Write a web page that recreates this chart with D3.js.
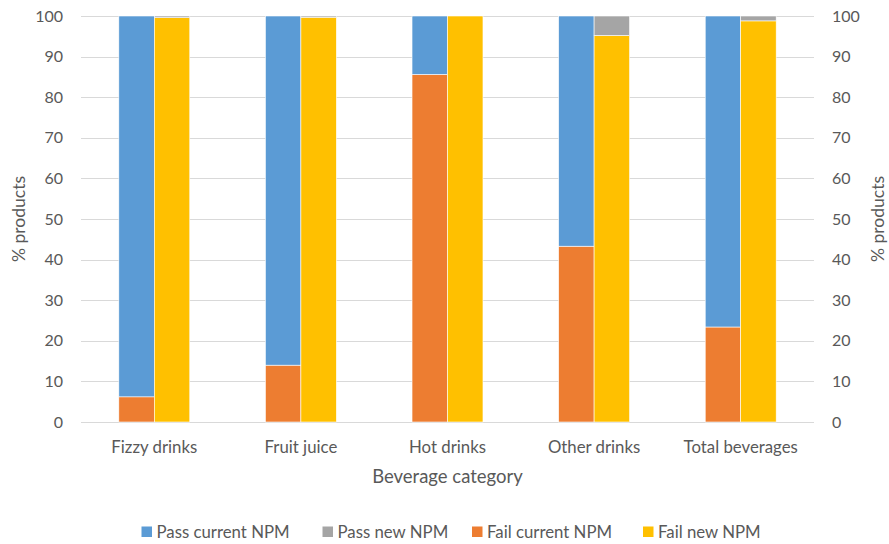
<!DOCTYPE html>
<html>
<head>
<meta charset="utf-8">
<script src="https://cdn.jsdelivr.net/npm/d3@7"></script>
<style>
  body { margin: 0; background: #fff; }
  svg text { font-family: Lato, "Open Sans", sans-serif; fill: #595959; }
</style>
</head>
<body>
<svg id="chart" width="889" height="544"></svg>
<script>
// data
var categories = ['Fizzy drinks', 'Fruit juice', 'Hot drinks', 'Other drinks', 'Total beverages'];
var failCurrent = [6.2, 14.0, 85.6, 43.3, 23.4];
var passCurrent = [93.8, 86.0, 14.4, 56.7, 76.6];
var failNew = [99.6, 99.7, 100, 95.2, 98.8];
var passNew = [0.4, 0.3, 0, 4.8, 1.2];
var yTicks = [0, 10, 20, 30, 40, 50, 60, 70, 80, 90, 100];

var colors = {
  passCurrent: '#5B9BD5',
  passNew: '#A5A5A5',
  failCurrent: '#ED7D31',
  failNew: '#FFC000'
};

var margin = {top: 16, right: 75, bottom: 122, left: 81},
    width = 889 - margin.left - margin.right,
    height = 544 - margin.top - margin.bottom;

var svg = d3.select('#chart');
var g = svg.append('g').attr('transform', 'translate(' + margin.left + ',' + margin.top + ')');

var x = d3.scaleBand().domain(categories).range([0, width]).paddingInner(0.516).paddingOuter(0.258);
var sub = d3.scaleBand().domain(['current', 'new']).range([0, x.bandwidth()]);
var y = d3.scaleLinear().domain([0, 100]).range([height, 0]);

// gridlines
g.selectAll('.grid').data(yTicks).enter().append('line')
  .attr('x1', 0).attr('x2', width)
  .attr('y1', function(d) { return Math.round(y(d)) + 0.5; })
  .attr('y2', function(d) { return Math.round(y(d)) + 0.5; })
  .attr('stroke', '#D9D9D9').attr('stroke-width', 1);

// rows for stacking
var rows = categories.map(function(c, i) {
  return {cat: c, failCurrent: failCurrent[i], passCurrent: passCurrent[i], failNew: failNew[i], passNew: passNew[i]};
});

var groups = [
  {key: 'current', stack: d3.stack().keys(['failCurrent', 'passCurrent'])(rows)},
  {key: 'new', stack: d3.stack().keys(['failNew', 'passNew'])(rows)}
];

groups.forEach(function(grp) {
  grp.stack.forEach(function(series) {
    g.selectAll('.b-' + series.key).data(series).enter().append('rect')
      .attr('x', function(d) { return x(d.data.cat) + sub(grp.key); })
      .attr('width', sub.bandwidth())
      .attr('y', function(d) { return y(d[1]); })
      .attr('height', function(d) { return y(d[0]) - y(d[1]); })
      .attr('fill', colors[series.key])
      .attr('stroke', '#fff').attr('stroke-width', 0.6);
  });
});

// left axis labels
g.selectAll('.yl').data(yTicks).enter().append('text')
  .attr('x', -18).attr('y', function(d) { return y(d); })
  .attr('dy', '0.35em').attr('text-anchor', 'end')
  .attr('font-size', 16).text(function(d) { return d; });

// right axis labels
g.selectAll('.yr').data(yTicks).enter().append('text')
  .attr('x', width + 18).attr('y', function(d) { return y(d); })
  .attr('dy', '0.35em').attr('text-anchor', 'start')
  .attr('font-size', 16).text(function(d) { return d; });

// category labels
g.selectAll('.xl').data(categories).enter().append('text')
  .attr('x', function(d) { return x(d) + x.bandwidth() / 2; })
  .attr('y', height + 31)
  .attr('text-anchor', 'middle').attr('font-size', 16.8)
  .text(function(d) { return d; });

// axis titles
svg.append('text')
  .attr('transform', 'translate(25,' + (margin.top + height / 2) + ') rotate(-90)')
  .attr('text-anchor', 'middle').attr('font-size', 17.5).text('% products');
svg.append('text')
  .attr('transform', 'translate(884,' + (margin.top + height / 2) + ') rotate(-90)')
  .attr('text-anchor', 'middle').attr('font-size', 17.5).text('% products');
svg.append('text')
  .attr('x', margin.left + width / 2).attr('y', 483)
  .attr('text-anchor', 'middle').attr('font-size', 18.5).text('Beverage category');

// legend
var legendItems = [
  {label: 'Pass current NPM', color: colors.passCurrent, x: 141.5},
  {label: 'Pass new NPM', color: colors.passNew, x: 322.5},
  {label: 'Fail current NPM', color: colors.failCurrent, x: 472},
  {label: 'Fail new NPM', color: colors.failNew, x: 643}
];
var lg = svg.selectAll('.lg').data(legendItems).enter().append('g')
  .attr('transform', function(d) { return 'translate(' + d.x + ',526.5)'; });
lg.append('rect').attr('width', 10.5).attr('height', 10.5).attr('fill', function(d) { return d.color; });
lg.append('text').attr('x', 15).attr('y', 5.5).attr('dy', '0.35em')
  .attr('font-size', 16.8).text(function(d) { return d.label; });
</script>
</body>
</html>
